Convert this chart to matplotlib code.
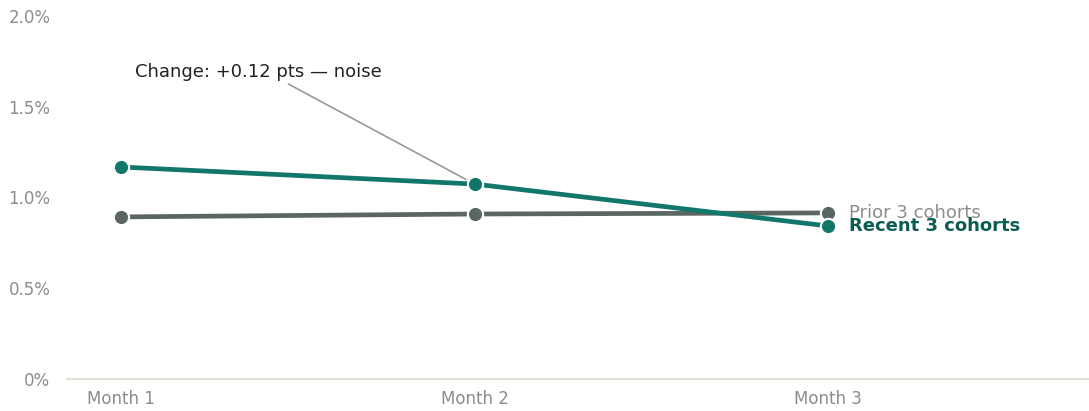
import matplotlib.pyplot as plt
from matplotlib.ticker import FuncFormatter

months = ['Month 1', 'Month 2', 'Month 3']
recent = [1.168, 1.074, 0.843]
prior = [0.893, 0.909, 0.915]

teal = '#12776b'
grey_line = '#5b6662'
label_grey = '#8c8c8c'

fig = plt.figure(figsize=(10.89, 4.11), dpi=100)
ax = fig.add_axes([0.0615, 0.0779, 0.9385, 0.8832])

x = range(len(months))
ax.plot(x, prior, color=grey_line, lw=3.4, marker='o', ms=11,
        mec='white', mew=1.5, zorder=3, solid_capstyle='butt')
ax.plot(x, recent, color=teal, lw=3.4, marker='o', ms=11,
        mec='white', mew=1.5, zorder=4, solid_capstyle='butt')

ax.set_xlim(-0.153, 2.738)
ax.set_ylim(0, 2.0)
ax.set_xticks(list(x))
ax.set_xticklabels(months)
ax.set_yticks([0, 0.5, 1.0, 1.5, 2.0])
ax.yaxis.set_major_formatter(FuncFormatter(lambda v, p: '0%' if v == 0 else f'{v:.1f}%'))
ax.tick_params(length=0, labelsize=12, labelcolor=label_grey)
ax.tick_params(axis='x', pad=8)
ax.tick_params(axis='y', pad=12)

for s in ['top', 'right', 'left']:
    ax.spines[s].set_visible(False)
ax.spines['bottom'].set_color('#e2dfd4')
ax.spines['bottom'].set_linewidth(1.5)

# end labels
ax.text(2.06, prior[-1], 'Prior 3 cohorts', color=label_grey, fontsize=13,
        va='center', ha='left')
ax.text(2.06, recent[-1], 'Recent 3 cohorts', color='#0b5d54', fontsize=13,
        fontweight='bold', va='center', ha='left')

ax.annotate('Change: +0.12 pts — noise', xy=(1, recent[1]), xytext=(0.04, 1.69),
            fontsize=13, color='#222222', va='center', ha='left',
            arrowprops=dict(arrowstyle='-', color='#999999', lw=1.2,
                            shrinkA=0, shrinkB=7, relpos=(0.6, 0.0)))

plt.savefig('out.png', dpi=100)
